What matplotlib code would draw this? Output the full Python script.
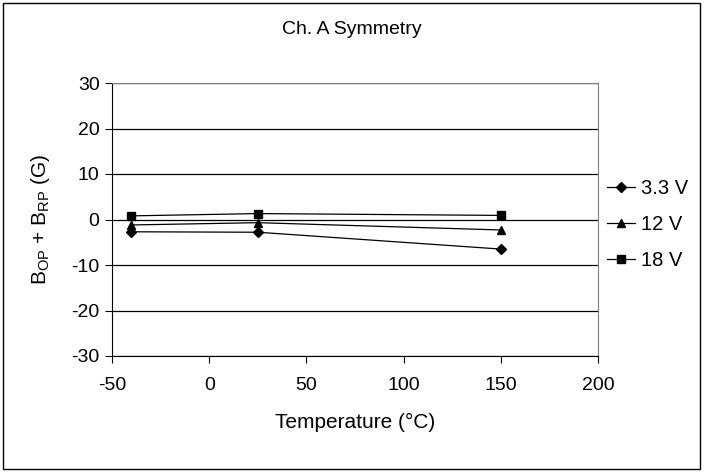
import matplotlib
matplotlib.use('Agg')
import matplotlib.pyplot as plt
from matplotlib.patches import Rectangle

plt.rcParams['font.family'] = ['Liberation Sans', 'DejaVu Sans']
plt.rcParams['axes.unicode_minus'] = False

temps = [-40, 25, 150]
v33 = [-2.7, -2.8, -6.5]
v12 = [-1.2, -0.7, -2.3]
v18 = [0.8, 1.3, 0.9]
labels = ['3.3 V', '12 V', '18 V']
markers = ['D', '^', 's']

fig = plt.figure(figsize=(7.04, 4.72), dpi=100)
ax = fig.add_axes([112/704, 1 - 356/472, (598-112)/704, (356-83)/472])

for ys, lab, m in zip([v33, v12, v18], labels, markers):
    ax.plot(temps, ys, color='black', lw=0.9, marker=m,
            ms=6 if m != 'D' else 5, label=lab)

ax.set_xlim(-50, 200)
ax.set_ylim(-30, 30)
ax.set_xticks(range(-50, 201, 50))
ax.set_yticks(range(-30, 31, 10))
ax.yaxis.grid(True, color='black', lw=0.9)
ax.set_axisbelow(True)
for s in ['top', 'right']:
    ax.spines[s].set_color('#808080')
ax.tick_params(labelsize=14, length=5, direction='out')
ax.tick_params(axis='x', pad=10)
ax.tick_params(axis='y', pad=4)

ax.set_xlabel('Temperature (°C)', fontsize=15, labelpad=14)
ax.set_ylabel('B$_{\\mathregular{OP}}$ + B$_{\\mathregular{RP}}$ (G)', fontsize=15, labelpad=14)
fig.text(0.5, 1 - 30/472, 'Ch. A Symmetry', ha='center', va='center', fontsize=14)

ax.legend(loc='center left', bbox_to_anchor=(1.0, 0.5 - 5/273), frameon=False,
          fontsize=14.5, handlelength=1.4, labelspacing=0.85, handletextpad=0.3,
          borderaxespad=0.05)

fig.patches.append(Rectangle((3/704, 3/472), 697/704, 466/472, transform=fig.transFigure,
                             fill=False, edgecolor='black', lw=1))

fig.savefig('out.png', dpi=100)
